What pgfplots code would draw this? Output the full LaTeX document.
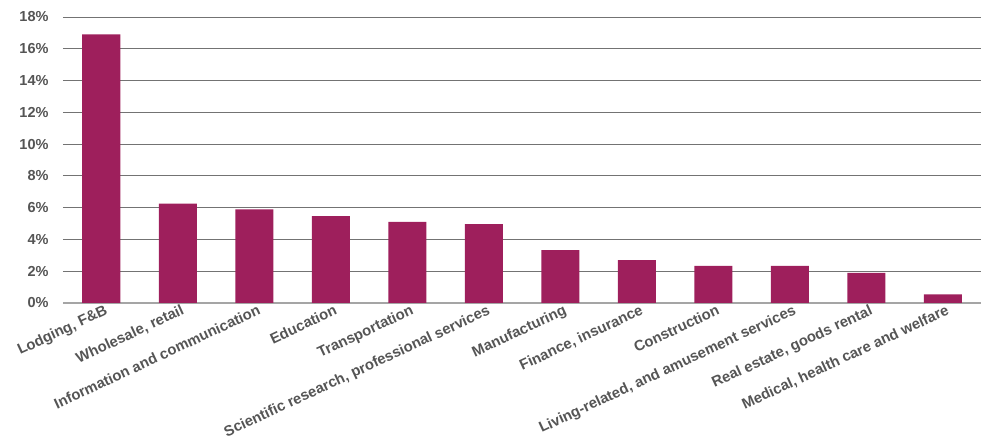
\documentclass[border=0pt]{standalone}
\usepackage{pgfplots}
\pgfplotsset{compat=1.18}
\usepackage{fontspec}
\setmainfont{Liberation Sans}
\definecolor{barc}{RGB}{158,31,92}
\definecolor{txt}{RGB}{85,85,85}
\definecolor{gridc}{RGB}{115,115,115}
\definecolor{basec}{RGB}{165,165,165}
\begin{document}
\begin{tikzpicture}
\begin{axis}[
  scale only axis, width=918pt, height=286pt,
  xmin=-0.5, xmax=11.5, ymin=0, ymax=18,
  ytick={0,2,...,18},
  yticklabel={\pgfmathprintnumber{\tick}\%},
  /pgf/number format/assume math mode=true,
  ymajorgrids, major grid style={draw=gridc, line width=0.9pt},
  axis x line*=bottom, axis y line*=left,
  x axis line style={draw=basec, line width=1.6pt, -},
  y axis line style={draw=none},
  major tick length=0pt, tick style={draw=none},
  xtick={0,...,11},
  xticklabels={{Lodging, F\&B},{Wholesale, retail},{Information and communication},{Education},{Transportation},{Scientific research, professional services},{Manufacturing},{Finance, insurance},{Construction},{Living-related, and amusement services},{Real estate, goods rental},{Medical, health care and welfare}},
  xticklabel style={rotate=25, anchor=north east, font=\fontsize{14.8}{17}\selectfont\bfseries, text=txt, inner sep=2pt, xshift=4pt},
  yticklabel style={font=\fontsize{14.5}{17}\selectfont\bfseries, text=txt, xshift=-11pt},
  ybar, bar width=38pt,
]
\addplot[fill=barc, draw=none] coordinates {
(0,16.9) (1,6.25) (2,5.9) (3,5.47) (4,5.1) (5,4.97) (6,3.33) (7,2.7) (8,2.33) (9,2.33) (10,1.89) (11,0.55)};
\end{axis}
\path ([shift={(-63pt,-139pt)}]current axis.south west) rectangle ([shift={(9pt,17pt)}]current axis.north east);
\end{tikzpicture}
\end{document}
